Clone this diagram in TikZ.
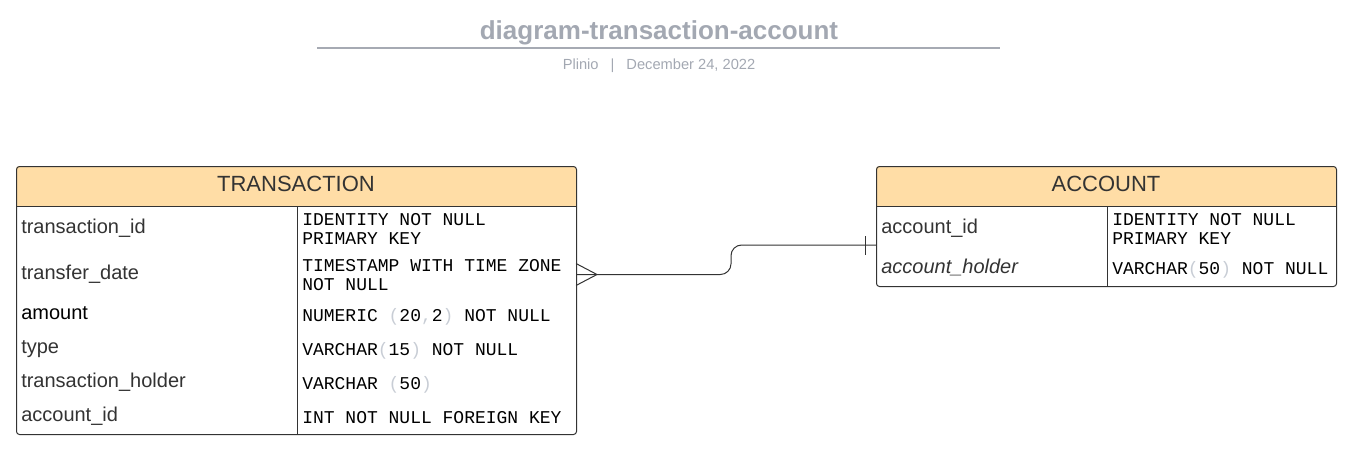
\documentclass[tikz,border=0pt]{standalone}
\usepackage{fontspec}
\setmainfont{Liberation Sans}
\setmonofont{Liberation Mono}
\definecolor{titlegray}{HTML}{A3A8B2}
\definecolor{rulegray}{HTML}{A6AAB3}
\definecolor{hdrfill}{HTML}{FFDDA6}
\definecolor{ink}{HTML}{333333}
\definecolor{paren}{HTML}{C8CDD5}
\newcommand{\gp}[1]{{\color{paren}#1}}
\tikzset{
  tbl/.style={draw=ink, line width=0.75pt, rounded corners=2.25pt, inner sep=0pt, anchor=north west},
  hdrtext/.style={inner sep=0pt, anchor=base, text=ink, font=\fontsize{16.5pt}{19pt}\selectfont},
  attr/.style={inner sep=0pt, anchor=base west, text=ink, font=\fontsize{15pt}{18pt}\selectfont},
  typ/.style={inner sep=0pt, anchor=base west, text=black, font=\ttfamily\fontsize{13.5pt}{16pt}\selectfont},
  conn/.style={draw=ink, line width=0.75pt},
}
\begin{document}
\begin{tikzpicture}[x=0.75pt,y=-0.75pt]
\useasboundingbox (0,0) rectangle (1349,451);
% title
\node[inner sep=0pt, anchor=base, text=titlegray, font=\bfseries\fontsize{19.5pt}{22pt}\selectfont] (title) at (659,39) {diagram-transaction-account};
\draw[rulegray, line width=1.5pt] (317,48) -- (1000,48);
\node[inner sep=0pt, anchor=base, text=titlegray, font=\fontsize{11pt}{13pt}\selectfont] (sub) at (659,69) {Plinio\hspace{9pt}|\hspace{9pt}December 24, 2022};

% TRANSACTION table
\fill[hdrfill] (16,206) {[rounded corners=2.25pt] -- (16,166) -- (576,166)} -- (576,206) -- cycle;
\node[tbl, minimum width=420pt, minimum height=201pt] (T) at (16,166) {};
\draw[ink, line width=0.75pt] (16,206) -- (576,206);
\draw[ink, line width=0.75pt] (297,206) -- (297,434);
\node[hdrtext] (Th) at (296,191) {TRANSACTION};
\node[attr] (t1) at (21,233) {transaction\_id};
\node[attr] (t2) at (21,279) {transfer\_date};
\node[attr, text=black] (t3) at (21,319) {amount};
\node[attr] (t4) at (21,353) {type};
\node[attr] (t5) at (21,387) {transaction\_holder};
\node[attr] (t6) at (21,421) {account\_id};
\node[typ] (y1a) at (302,225) {IDENTITY NOT NULL};
\node[typ] (y1b) at (302,244) {PRIMARY KEY};
\node[typ] (y2a) at (302,271) {TIMESTAMP WITH TIME ZONE};
\node[typ] (y2b) at (302,290) {NOT NULL};
\node[typ] (y3) at (302,321) {NUMERIC \gp{(}20\gp{,}2\gp{)} NOT NULL};
\node[typ] (y4) at (302,355) {VARCHAR\gp{(}15\gp{)} NOT NULL};
\node[typ] (y5) at (302,389) {VARCHAR \gp{(}50\gp{)}};
\node[typ] (y6) at (302,423) {INT NOT NULL FOREIGN KEY};

% ACCOUNT table
\fill[hdrfill] (876,206) {[rounded corners=2.25pt] -- (876,166) -- (1336,166)} -- (1336,206) -- cycle;
\node[tbl, minimum width=345pt, minimum height=90pt] (A) at (876,166) {};
\draw[ink, line width=0.75pt] (876,206) -- (1336,206);
\draw[ink, line width=0.75pt] (1107,206) -- (1107,286);
\node[hdrtext] (Ah) at (1106,191) {ACCOUNT};
\node[attr] (a1) at (881,233) {account\_id};
\node[attr, font=\itshape\fontsize{15pt}{18pt}\selectfont] (a2) at (881,273) {account\_holder};
\node[typ] (b1a) at (1112,225) {IDENTITY NOT NULL};
\node[typ] (b1b) at (1112,244) {PRIMARY KEY};
\node[typ] (b2) at (1112,274) {VARCHAR\gp{(}50\gp{)} NOT NULL};

% connector
\coordinate (cT) at (576,274.5);
\coordinate (cA) at (876,245);
\coordinate (bend1) at (731,274.5);
\coordinate (bend2) at (731,245);
\draw[conn, rounded corners=8pt] (cT) -- (bend1) -- (bend2) -- (cA);
\draw[conn] (576,263.5) -- (597,274.5) -- (576,285.5);
\draw[conn] (865,236) -- (865,254.5);
\end{tikzpicture}
\end{document}
